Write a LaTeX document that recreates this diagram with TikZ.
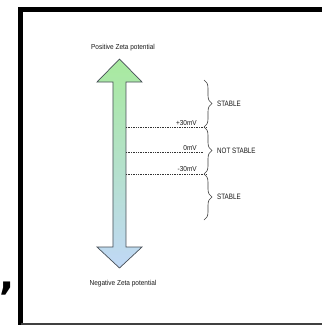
\documentclass[tikz,border=0pt]{standalone}
\usepackage{fontspec}
\setmainfont{Liberation Sans}
\newfontfamily\lblfont[FakeStretch=0.9]{Liberation Sans}
\newfontfamily\capsfont[FakeStretch=0.8]{Liberation Sans}
\newfontfamily\commafont{DejaVu Sans}
\usetikzlibrary{decorations.pathreplacing}
\definecolor{topgreen}{RGB}{168,234,158}
\definecolor{botblue}{RGB}{192,216,246}
\definecolor{edgegray}{RGB}{70,78,86}
\begin{document}
\begin{tikzpicture}[x=1pt,y=-1pt,
  lbl/.style={font=\lblfont\fontsize{7.2}{8}\selectfont, text=black!90, inner sep=0pt},
  zonelbl/.style={font=\capsfont\fontsize{7.8}{9}\selectfont, text=black!90, inner sep=0pt, anchor=west},
  level/.style={densely dotted, line width=0.7pt, black!80},
  brc/.style={decorate, decoration={brace, amplitude=8pt}, draw=black!75, line width=0.6pt},
  bigarrow/.style={draw=edgegray, line width=0.7pt, line join=miter, top color=topgreen, bottom color=botblue},
]
\useasboundingbox (0,0) rectangle (322,325);
\fill[white] (0,0) rectangle (322,325);
% frame
\draw[line width=5pt, line join=miter] (21,325) -- (21,9.5) -- (322,9.5);
\draw[line width=2pt, black!75] (21,324) -- (322,324);
% comma outside the frame
\node[font=\commafont\bfseries\fontsize{40}{40}\selectfont, inner sep=0pt, anchor=base] (comma) at (7,289) {,};
% double arrow
\path[bigarrow] (119.5,59) -- (142,82) -- (126,82) -- (126,247) -- (142,247)
  -- (119.5,268) -- (97,247) -- (113,247) -- (113,82) -- (97,82) -- cycle;
\coordinate (a30) at (126,127);
\coordinate (a0) at (126,152);
\coordinate (am30) at (126,174);
\coordinate (b30) at (207,127);
\coordinate (b0) at (203,152);
\coordinate (bm30) at (207,174);
\coordinate (r1) at (204,80);
\coordinate (r2) at (204,127);
\coordinate (r3) at (204,174);
\coordinate (r4) at (204,220);
% labels
\node[lbl] (pos) at (123,48) {Positive Zeta potential};
\node[lbl] (neg) at (123,284) {Negative Zeta potential};
\node[lbl, anchor=base east] (l30) at (197,125) {+30mV};
\node[lbl, anchor=base east] (l0) at (197,150) {0mV};
\node[lbl, anchor=base east] (lm30) at (197,171.5) {-30mV};
% levels
\draw[level] (a30) -- (b30);
\draw[level] (a0) -- (b0);
\draw[level] (am30) -- (bm30);
% braces
\draw[brc] (r1) -- (r2);
\draw[brc] (r2) -- (r3);
\draw[brc] (r3) -- (r4);
\node[zonelbl] (s1) at (217,103.5) {STABLE};
\node[zonelbl] (ns) at (217,150.5) {NOT STABLE};
\node[zonelbl] (s2) at (217,197) {STABLE};
\end{tikzpicture}
\end{document}
